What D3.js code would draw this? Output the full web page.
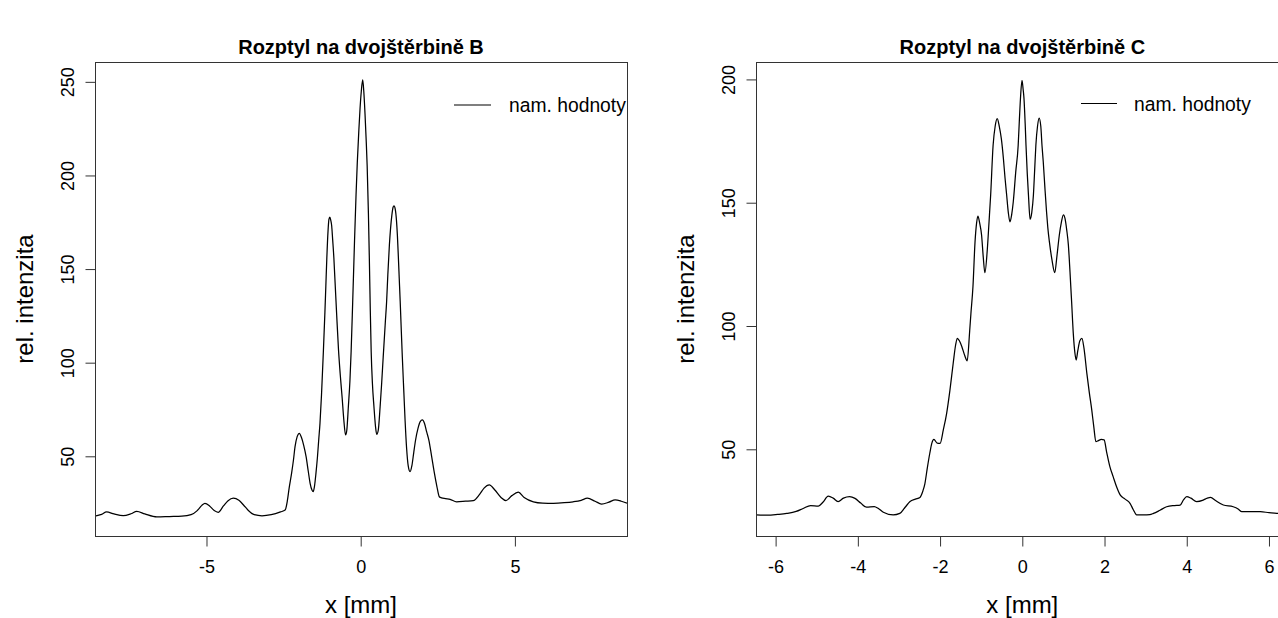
<!DOCTYPE html>
<html>
<head>
<meta charset="utf-8">
<script src="https://cdn.jsdelivr.net/npm/d3@7"></script>
<style>
  html, body { margin: 0; padding: 0; background: #fff; }
  svg { display: block; }
  text { font-family: "Liberation Sans", Arial, Helvetica, sans-serif; fill: #000; }
</style>
</head>
<body>
<script>
// ---------- data ----------
const titleB = "Rozptyl na dvojštěrbině B";
const titleC = "Rozptyl na dvojštěrbině C";
const xLabel = "x [mm]";
const yLabel = "rel. intenzita";
const legendLabel = "nam. hodnoty";

const xTicksB = [-5, 0, 5];
const yTicksB = [50, 100, 150, 200, 250];
const xTicksC = [-6, -4, -2, 0, 2, 4, 6];
const yTicksC = [50, 100, 150, 200];

// Panel B: position x [mm]
const xB = [-8.615, -8.4, -8.24, -8.0, -7.7, -7.45, -7.26, -7.0, -6.61, -6.2, -5.8, -5.5, -5.3, -5.15, -5.05, -4.9, -4.75, -4.62, -4.45, -4.3, -4.13, -3.95, -3.8, -3.65, -3.45, -3.2, -2.9, -2.6,
  -2.45, -2.38, -2.32, -2.24, -2.18, -2.13, -2.06, -1.99, -1.92, -1.85, -1.77, -1.7, -1.64, -1.58, -1.54,
  -1.5, -1.45, -1.4, -1.36, -1.32, -1.27, -1.21, -1.16, -1.13, -1.1, -1.06, -1.03, -1.0, -0.97, -0.94, -0.91, -0.87, -0.84, -0.81, -0.78, -0.72, -0.66, -0.6, -0.55, -0.49,
  -0.45, -0.4, -0.35, -0.31, -0.26, -0.2, -0.15, -0.11, -0.06, -0.02, 0.02, 0.065, 0.1, 0.14, 0.18, 0.21, 0.25, 0.28, 0.31, 0.34, 0.38, 0.43, 0.48, 0.52,
  0.57, 0.63, 0.68, 0.73, 0.8, 0.84, 0.88, 0.93, 0.97, 1.01, 1.05, 1.08, 1.12, 1.16, 1.19, 1.22, 1.25, 1.28, 1.31, 1.35, 1.4, 1.44, 1.49, 1.54, 1.6,
  1.66, 1.72, 1.78, 1.86, 1.93, 2.0, 2.07, 2.14, 2.21, 2.3, 2.39, 2.47, 2.55, 2.62, 2.75, 2.9, 3.11, 3.4, 3.65, 3.85, 4.0, 4.17, 4.35, 4.55, 4.71, 4.9, 5.11, 5.3, 5.6, 5.9, 6.25, 6.6, 6.89, 7.15, 7.35, 7.6, 7.81, 8.05, 8.25, 8.45, 8.635];
// Panel B: relative intensity
const yB = [18.1, 19.0, 20.3, 19.2, 18.3, 19.3, 20.6, 19.2, 17.6, 17.8, 18.0, 18.8, 21.0, 23.8, 24.9, 23.5, 21.0, 20.1, 23.5, 26.3, 27.6, 26.5, 24.0, 21.2, 18.8, 18.2, 18.8, 20.3,
  21.3, 26, 33, 41, 48, 55, 60.5, 62.3, 60, 56, 49.8, 42, 35.6, 32, 31.1,
  33.8, 41, 50, 59, 67.6, 83, 106, 127, 141, 155, 170, 176.5, 177.8, 176, 173, 166, 156, 146, 136, 126, 107, 93, 81, 70, 61.4,
  64, 76.5, 90, 106, 132, 165, 190, 207, 224, 236, 245, 251, 245, 233, 218, 205, 180, 156, 129, 106, 89, 76.5, 66, 61.7,
  64, 76.5, 89, 103, 122, 132.4, 147, 162.7, 172, 178.7, 183, 183.7, 182, 176, 168, 157, 145, 133, 120, 103, 84, 69, 54, 45, 41.8,
  45, 52, 58.7, 65, 68.5, 69.4, 67.5, 63, 58.7, 50, 41, 34, 28.4, 27.8, 27.4, 27.0, 25.7, 26.0, 26.3, 29.5, 33, 34.7, 32, 28, 26.3, 29, 30.8, 28, 25.7, 25.0, 24.9, 25.2, 25.7, 26.5, 27.6, 26, 24.5, 25.5, 26.7, 26, 24.9];

// Panel C: position x [mm]
const xC = [-6.47, -6.2, -5.95, -5.73, -5.5, -5.33, -5.15, -4.96, -4.85, -4.72, -4.6, -4.48, -4.35, -4.2, -4.07, -3.93, -3.79, -3.6, -3.5, -3.38, -3.14, -2.98, -2.85, -2.73, -2.6, -2.49,
  -2.42, -2.37, -2.31, -2.25, -2.2, -2.15, -2.07, -2.0, -1.92, -1.84, -1.76, -1.68, -1.62, -1.58, -1.53, -1.47, -1.4, -1.34,
  -1.28, -1.25, -1.2, -1.15, -1.11, -1.08, -1.04, -0.99, -0.95, -0.91, -0.85, -0.81, -0.77, -0.71, -0.66, -0.61, -0.56, -0.51, -0.46, -0.42, -0.38, -0.34, -0.3,
  -0.26, -0.22, -0.16, -0.1, -0.07, -0.04, -0.007, 0.02, 0.04, 0.07, 0.09, 0.12, 0.15, 0.19, 0.23, 0.27, 0.3, 0.33, 0.37, 0.41, 0.45, 0.48, 0.51, 0.55, 0.59, 0.62, 0.66, 0.72, 0.79,
  0.84, 0.9, 0.95, 1.0, 1.04, 1.08, 1.12, 1.16, 1.2, 1.24, 1.28, 1.31, 1.35, 1.4, 1.45, 1.5, 1.57, 1.63, 1.69, 1.74, 1.79, 1.85, 1.92, 1.99, 2.05, 2.13, 2.21, 2.3, 2.38, 2.5, 2.62, 2.7, 2.78,
  2.95, 3.1, 3.19, 3.35, 3.51, 3.7, 3.84, 3.92, 4.0, 4.1, 4.24, 4.4, 4.5, 4.58, 4.7, 4.89, 5.13, 5.25, 5.34, 5.6, 5.79, 6.0, 6.19, 6.47];
// Panel C: relative intensity
const yC = [23.4, 23.3, 23.6, 24.0, 24.8, 26.0, 27.2, 27.0, 28.5, 31.0, 30.2, 28.8, 30.2, 30.8, 30.1, 28.2, 26.5, 26.8, 26.0, 24.5, 23.4, 24.0, 26.5, 28.8, 29.8, 30.5,
  33, 36, 42.5, 48.4, 52.5, 54, 52.5, 52.4, 58, 64.6, 74, 85, 92.5, 95, 94, 91.6, 88, 85.9,
  98, 105, 116, 134, 142, 144.6, 142, 136.8, 128, 121.6, 131.3, 142, 153, 173.3, 181, 184.1, 181, 176, 168, 160, 153, 146, 142.2,
  145, 150.3, 162.4, 173.3, 184, 193.6, 199.6, 196, 192.5, 182, 173.3, 162, 153, 143.3, 146, 153, 163, 173.3, 181, 184.3, 181, 173, 166.5, 156, 146.2, 140, 134, 127, 121.6,
  128, 136.8, 142, 145.1, 143.5, 139, 133, 122, 109.7, 97, 89, 86.2, 90, 94, 95, 91, 80.8, 73, 65.9, 59, 53.1, 53.5, 54, 53.8, 49, 43, 38.9, 34.5, 31.5, 29.8, 28.1, 25.5, 23.4,
  23.4, 23.5, 24.0, 25.3, 26.7, 27.2, 27.4, 29.5, 30.8, 30.2, 28.8, 29.4, 30.2, 30.5, 29.2, 27.4, 26.7, 25.8, 24.7, 24.7, 24.7, 24.3, 24.0, 24.3];

// ---------- layout ----------
const W = 1278, H = 618;
const TOP = 62, BOTTOM = 536;
const FONT = '"Liberation Sans", Arial, Helvetica, sans-serif';

const panels = [
  { xs: xB, ys: yB, left: 95, right: 627, xDom: [-8.615, 8.635], yDom: [7.43, 260.6],
    xTicks: xTicksB, yTicks: yTicksB, title: titleB,
    leg: { x1: 454, x2: 491, y: 105, tx: 509, ty: 111.5 } },
  { xs: xC, ys: yC, left: 756.3, right: 1288.3, xDom: [-6.47, 6.47], yDom: [14.84, 207.06],
    xTicks: xTicksC, yTicks: yTicksC, title: titleC,
    leg: { x1: 1081, x2: 1117, y: 103.5, tx: 1134, ty: 110.5 } }
];

const svg = d3.select("body").append("svg")
  .attr("width", W).attr("height", H)
  .attr("viewBox", `0 0 ${W} ${H}`);

svg.append("rect").attr("width", W).attr("height", H).attr("fill", "#fff");

panels.forEach((p, i) => {
  const x = d3.scaleLinear().domain(p.xDom).range([p.left, p.right]);
  const y = d3.scaleLinear().domain(p.yDom).range([BOTTOM, TOP]);
  const cx = (p.left + p.right) / 2;
  const cy = (TOP + BOTTOM) / 2;

  const clipId = "clip" + i;
  svg.append("clipPath").attr("id", clipId)
    .append("rect").attr("x", p.left).attr("y", TOP)
    .attr("width", p.right - p.left).attr("height", BOTTOM - TOP);

  const data = p.xs.map((v, k) => [v, p.ys[k]]);
  const line = d3.line().x(d => x(d[0])).y(d => y(d[1])).curve(d3.curveMonotoneX);

  svg.append("path")
    .attr("clip-path", `url(#${clipId})`)
    .attr("d", line(data))
    .attr("fill", "none")
    .attr("stroke", "#000")
    .attr("stroke-width", 1.25)
    .attr("stroke-linejoin", "round");

  // box
  svg.append("rect")
    .attr("x", Math.round(p.left) + 0.5).attr("y", TOP + 0.5)
    .attr("width", p.right - p.left).attr("height", BOTTOM - TOP)
    .attr("fill", "none").attr("stroke", "#333").attr("stroke-width", 1);

  // x axis
  const gx = svg.append("g").attr("transform", `translate(0,${BOTTOM + 0.5})`)
    .call(d3.axisBottom(x).tickValues(p.xTicks).tickSize(10).tickFormat(d => String(d)));
  gx.select(".domain").remove();
  gx.selectAll(".tick line").attr("stroke", "#333");
  gx.selectAll(".tick text")
    .attr("y", 36.5).attr("dy", null)
    .style("font-family", FONT).style("font-size", "18px").attr("fill", "#000");

  // y axis
  const gy = svg.append("g").attr("transform", `translate(${Math.round(p.left) + 0.5},0)`)
    .call(d3.axisLeft(y).tickValues(p.yTicks).tickSize(10).tickFormat(d => String(d)));
  gy.select(".domain").remove();
  gy.selectAll(".tick line").attr("stroke", "#333");
  gy.selectAll(".tick text")
    .attr("x", null).attr("dy", null)
    .attr("text-anchor", "middle")
    .attr("transform", "translate(-21.5,0) rotate(-90)")
    .style("font-family", FONT).style("font-size", "18px").attr("fill", "#000");

  // title
  svg.append("text")
    .attr("x", cx).attr("y", 54)
    .attr("text-anchor", "middle")
    .style("font-size", "20px").style("font-weight", "bold")
    .text(p.title);

  // axis labels
  svg.append("text")
    .attr("x", cx).attr("y", 613)
    .attr("text-anchor", "middle")
    .style("font-size", "24px")
    .text(xLabel);

  svg.append("text")
    .attr("transform", `translate(${p.left - 62},${cy}) rotate(-90)`)
    .attr("text-anchor", "middle")
    .style("font-size", "24px")
    .text(yLabel);

  // legend
  svg.append("line")
    .attr("x1", p.leg.x1).attr("x2", p.leg.x2)
    .attr("y1", p.leg.y).attr("y2", p.leg.y)
    .attr("stroke", "#000").attr("stroke-width", 1.1);
  svg.append("text")
    .attr("x", p.leg.tx).attr("y", p.leg.ty)
    .style("font-size", "19.3px")
    .text(legendLabel);
});
</script>
</body>
</html>
